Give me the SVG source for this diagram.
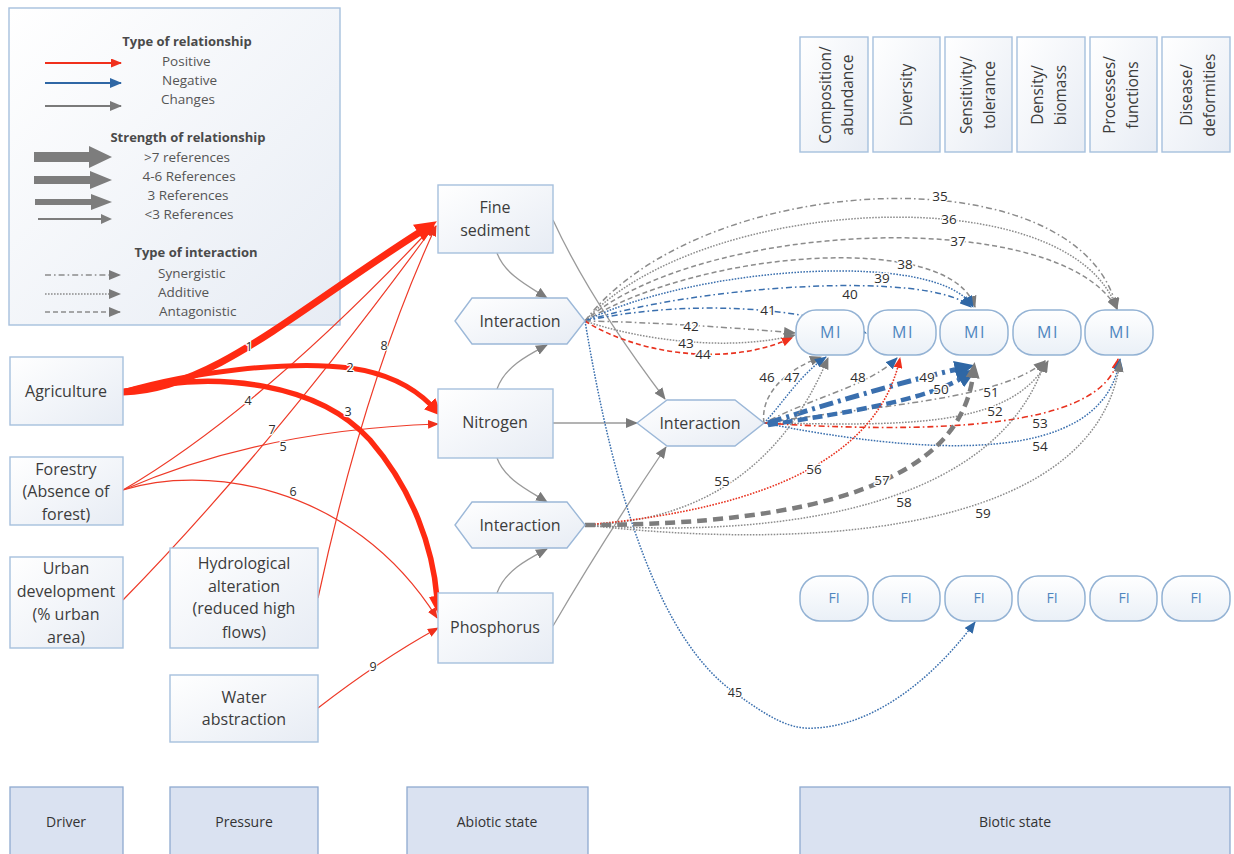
<svg xmlns="http://www.w3.org/2000/svg" width="1234" height="854" viewBox="0 0 1234 854">
  <defs>
    <linearGradient id="nodeFill" x1="0" y1="0" x2="1" y2="1">
      <stop offset="0" stop-color="#ffffff"/>
      <stop offset="1" stop-color="#e7ecf4"/>
    </linearGradient>
    <linearGradient id="pillFill" x1="0" y1="0" x2="0" y2="1">
      <stop offset="0" stop-color="#ffffff"/>
      <stop offset="1" stop-color="#eaf0f7"/>
    </linearGradient>
    <marker id="mRedL" markerUnits="userSpaceOnUse" markerWidth="22" markerHeight="20" refX="2" refY="10" orient="auto">
      <path d="M0,0 L22,10 L0,20 z" fill="#ff2a12"/>
    </marker>
    <marker id="mRedM" markerUnits="userSpaceOnUse" markerWidth="18" markerHeight="16" refX="2" refY="8" orient="auto">
      <path d="M0,0 L18,8 L0,16 z" fill="#ff2a12"/>
    </marker>
    <marker id="mRed" markerUnits="userSpaceOnUse" markerWidth="11" markerHeight="9" refX="10" refY="4.5" orient="auto">
      <path d="M0,0 L11,4.5 L0,9 z" fill="#f0301c"/>
    </marker>
    <marker id="mGray" markerUnits="userSpaceOnUse" markerWidth="12" markerHeight="10" refX="11" refY="5" orient="auto">
      <path d="M0,0 L12,5 L0,10 z" fill="#7a7a7a"/>
    </marker>
    <marker id="mBlue" markerUnits="userSpaceOnUse" markerWidth="12" markerHeight="10" refX="11" refY="5" orient="auto">
      <path d="M0,0 L12,5 L0,10 z" fill="#2f67a5"/>
    </marker>
    <marker id="mBlueL" markerUnits="userSpaceOnUse" markerWidth="20" markerHeight="18" refX="3" refY="9" orient="auto">
      <path d="M0,0 L20,9 L0,18 z" fill="#2f67a5"/>
    </marker>
    <marker id="mGrayL" markerUnits="userSpaceOnUse" markerWidth="16" markerHeight="14" refX="3" refY="7" orient="auto">
      <path d="M0,0 L16,7 L0,14 z" fill="#7a7a7a"/>
    </marker>
    <style>
      text { font-family: "Open Sans", "Liberation Sans", sans-serif; fill: #3c3c3c; }
      .box { fill: url(#nodeFill); stroke: #a6c0dd; stroke-width: 1.4; }
      .hdr { fill: #dae2f1; stroke: #8faad0; stroke-width: 1.3; }
      .hex { fill: url(#nodeFill); stroke: #9cb8d8; stroke-width: 1.4; }
      .pill { fill: url(#pillFill); stroke: #93b2d4; stroke-width: 1.5; }
      .nt { font-size: 16px; text-anchor: middle; }
      .ht { font-size: 14px; text-anchor: middle; fill: #333; }
      .ct { font-size: 15.5px; text-anchor: middle; }
      .mi { font-size: 16px; text-anchor: middle; fill: #4f86c0; letter-spacing: 1.5px; }
      .fi { font-size: 14px; text-anchor: middle; fill: #4f86c0; }
      .lh { font-size: 13px; font-weight: bold; text-anchor: middle; fill: #4a4a4a; }
      .lt { font-size: 13.5px; fill: #555; }
      .ltm { font-size: 13.5px; fill: #555; text-anchor: middle; }
      .num { font-size: 13.5px; text-anchor: middle; fill: #2e2e2e; stroke: #ffffff; stroke-width: 3px; paint-order: stroke; stroke-linejoin: round; }
      .nums { font-size: 12.5px; text-anchor: middle; fill: #2e2e2e; stroke: #ffffff; stroke-width: 2.5px; paint-order: stroke; stroke-linejoin: round; }
      .c { fill: none; }
      .red { stroke: #ff2a12; }
      .redt { stroke: #ee3a28; stroke-width: 1.2; }
      .gs { stroke: #9a9a9a; stroke-width: 1.3; }
      .g { stroke: #8c8c8c; stroke-width: 1.5; }
      .b { stroke: #3a6fae; stroke-width: 1.5; }
      .r { stroke: #e8321f; stroke-width: 1.6; }
      .sy { stroke-dasharray: 6 3 1.6 3; }
      .ad { stroke-dasharray: 1.6 1.4; }
      .an { stroke-dasharray: 5 3; }
    </style>
  </defs>

  <rect width="1234" height="854" fill="#ffffff"/>

  <!-- Legend -->
  <g id="legend">
    <rect x="9" y="8" width="331" height="317" class="box"/>
    <text class="lh" x="187" y="46">Type of relationship</text>
    <path d="M45,63 L121,63" class="c" stroke="#f0301c" stroke-width="2.2" marker-end="url(#mRed)"/>
    <text class="lt" x="162" y="66">Positive</text>
    <path d="M45,83 L121,83" class="c" stroke="#2f67a5" stroke-width="2.2" marker-end="url(#mBlue)"/>
    <text class="lt" x="162" y="85">Negative</text>
    <path d="M45,106 L121,106" class="c" stroke="#7a7a7a" stroke-width="1.8" marker-end="url(#mGray)"/>
    <text class="lt" x="161" y="104">Changes</text>

    <text class="lh" x="188" y="142">Strength of relationship</text>
    <path d="M34,152 L89,152 L89,146 L112,157 L89,168 L89,162 L34,162 z" fill="#7d7d7d"/>
    <text class="ltm" x="187" y="162">&gt;7 references</text>
    <path d="M34,176 L90,176 L90,171 L112,180 L90,189 L90,184 L34,184 z" fill="#7d7d7d"/>
    <text class="ltm" x="189" y="181">4-6 References</text>
    <path d="M35,199 L91,199 L91,194 L112,202 L91,210 L91,205 L35,205 z" fill="#7d7d7d"/>
    <text class="ltm" x="188" y="200">3 References</text>
    <path d="M38,218 L101,218 L101,214 L112,219 L101,224 L101,220 L38,220 z" fill="#7d7d7d"/>
    <text class="ltm" x="189" y="219">&lt;3 References</text>

    <text class="lh" x="196" y="257">Type of interaction</text>
    <path d="M45,275 L120,275" class="c g sy" marker-end="url(#mGray)"/>
    <text class="lt" x="158" y="278">Synergistic</text>
    <path d="M45,294 L120,294" class="c g ad" marker-end="url(#mGray)"/>
    <text class="lt" x="158" y="297">Additive</text>
    <path d="M45,312 L120,312" class="c g an" marker-end="url(#mGray)"/>
    <text class="lt" x="159" y="316">Antagonistic</text>
  </g>

  <!-- Biotic metric columns -->
  <g id="metric-composition">
    <rect x="800" y="37" width="68" height="115" class="box"/>
    <text class="ct" transform="translate(831,95) rotate(-90)">Composition/</text>
    <text class="ct" transform="translate(853,95) rotate(-90)">abundance</text>
  </g>
  <g id="metric-diversity">
    <rect x="873" y="37" width="67" height="115" class="box"/>
    <text class="ct" transform="translate(912,95) rotate(-90)">Diversity</text>
  </g>
  <g id="metric-sensitivity">
    <rect x="945" y="37" width="67" height="115" class="box"/>
    <text class="ct" transform="translate(972,95) rotate(-90)">Sensitivity/</text>
    <text class="ct" transform="translate(995,95) rotate(-90)">tolerance</text>
  </g>
  <g id="metric-density">
    <rect x="1017" y="37" width="68" height="115" class="box"/>
    <text class="ct" transform="translate(1043,95) rotate(-90)">Density/</text>
    <text class="ct" transform="translate(1066,95) rotate(-90)">biomass</text>
  </g>
  <g id="metric-processes">
    <rect x="1090" y="37" width="67" height="115" class="box"/>
    <text class="ct" transform="translate(1115,95) rotate(-90)">Processes/</text>
    <text class="ct" transform="translate(1138,95) rotate(-90)">functions</text>
  </g>
  <g id="metric-disease">
    <rect x="1162" y="37" width="68" height="115" class="box"/>
    <text class="ct" transform="translate(1192,95) rotate(-90)">Disease/</text>
    <text class="ct" transform="translate(1215,95) rotate(-90)">deformities</text>
  </g>

  <!-- Connectors -->
  <g id="connectors" class="c">
    <!-- drivers and pressures to abiotic state -->
    <path d="M123,490 Q260,410 433,226" class="redt" marker-end="url(#mRed)"/>
    <path d="M123,600 Q270,450 434,226" class="redt" marker-end="url(#mRed)"/>
    <path d="M318,598 Q365,380 436,226" class="redt" marker-end="url(#mRed)"/>
    <path d="M123,490 Q260,430 438,424" class="redt" marker-end="url(#mRed)"/>
    <path d="M123,490 C200,465 350,480 437,618" class="redt" marker-end="url(#mRed)"/>
    <path d="M318,708 Q380,660 438,628" class="redt" marker-end="url(#mRed)"/>
    <path d="M123,392 C210,390 290,315 420,232" class="red" stroke-width="7" marker-end="url(#mRedL)"/>
    <path d="M123,392 C190,372 290,360 350,368 C393,374 418,392 431,405" class="red" stroke-width="5" marker-end="url(#mRedM)"/>
    <path d="M123,392 C220,368 320,385 370,440 C413,490 433,548 437,598" class="red" stroke-width="5.5" marker-end="url(#mRedM)"/>

    <!-- abiotic to interactions -->
    <path d="M497,253 C505,275 530,287 547,298" class="gs" marker-end="url(#mGray)"/>
    <path d="M497,389 C505,366 530,354 547,345" class="gs" marker-end="url(#mGray)"/>
    <path d="M497,458 C505,480 530,491 547,502" class="gs" marker-end="url(#mGray)"/>
    <path d="M497,593 C505,570 530,558 547,549" class="gs" marker-end="url(#mGray)"/>
    <path d="M553,220 Q590,300 665,399" class="gs" marker-end="url(#mGray)"/>
    <path d="M553,423 L637,423" class="gs" marker-end="url(#mGray)"/>
    <path d="M553,626 Q600,545 666,447" class="gs" marker-end="url(#mGray)"/>

    <!-- upper interaction to biotic state -->
    <path d="M585,321 C700,170 1080,150 1117,309" class="g sy" marker-end="url(#mGray)"/>
    <path d="M585,321 C700,195 1070,175 1117,309" class="g ad" marker-end="url(#mGray)"/>
    <path d="M585,321 C700,220 1060,205 1117,309" class="g an" marker-end="url(#mGray)"/>
    <path d="M585,321 C700,250 950,230 975,307" class="g an" marker-end="url(#mGray)"/>
    <path d="M585,321 C700,265 940,250 973,307" class="b ad" marker-end="url(#mBlue)"/>
    <path d="M585,321 C700,285 930,270 971,307" class="b sy" marker-end="url(#mBlue)"/>
    <path d="M585,321 C680,300 800,305 866,333" class="b sy" marker-end="url(#mBlue)"/>
    <path d="M585,321 C650,322 740,328 795,333" class="g sy" marker-end="url(#mGray)"/>
    <path d="M585,321 C640,340 730,352 795,335" class="g ad" marker-end="url(#mGray)"/>
    <path d="M585,321 C630,350 720,370 792,338" class="r an" marker-end="url(#mRed)"/>
    <path d="M585,321 C615,500 660,640 735,693 C770,718 790,730 815,728 C880,725 940,670 975,622" class="b ad" marker-end="url(#mBlue)"/>

    <!-- middle interaction to biotic state -->
    <path d="M764,423 C760,395 785,370 821,357" class="g an" marker-end="url(#mGray)"/>
    <path d="M766,421 C785,400 800,375 826,357" class="b ad" marker-end="url(#mBlue)"/>
    <path d="M770,420 C820,395 870,385 897,358" class="g sy" marker-end="url(#mBlue)"/>
    <path d="M764,423 C880,405 1000,400 1045,361" class="g sy" marker-end="url(#mGray)"/>
    <path d="M764,423 C900,425 1010,430 1048,361" class="g ad" marker-end="url(#mGray)"/>
    <path d="M764,423 Q1100,445 1118,359" class="r sy" marker-end="url(#mRed)"/>
    <path d="M764,423 Q1100,490 1120,359" class="b ad" marker-end="url(#mBlue)"/>
    <path d="M768,423 C840,400 910,380 958,369" stroke="#3a6fae" stroke-width="5" stroke-dasharray="14 5 3 5" marker-end="url(#mBlueL)"/>
    <path d="M768,425 C850,412 925,400 962,378" stroke="#3a6fae" stroke-width="4.5" stroke-dasharray="10 5" marker-end="url(#mBlueL)"/>

    <!-- lower interaction to biotic state -->
    <path d="M585,525 Q760,520 828,358" class="g ad" marker-end="url(#mGray)"/>
    <path d="M585,525 Q870,500 900,358" class="r ad" marker-end="url(#mRed)"/>
    <path d="M585,525 C800,540 1000,500 1045,361" class="g ad" marker-end="url(#mGray)"/>
    <path d="M585,525 C850,555 1100,520 1120,361" class="g ad" marker-end="url(#mGray)"/>
    <path d="M585,525 C820,525 960,480 973,375" stroke="#7d7d7d" stroke-width="4.5" stroke-dasharray="10 6" marker-end="url(#mGrayL)"/>

    <!-- connector numbers -->
    <text class="nums" x="249" y="351">1</text>
    <text class="nums" x="350" y="372">2</text>
    <text class="nums" x="348" y="416">3</text>
    <text class="nums" x="248" y="405">4</text>
    <text class="nums" x="283" y="451">5</text>
    <text class="nums" x="293" y="496">6</text>
    <text class="nums" x="272" y="434">7</text>
    <text class="nums" x="384" y="350">8</text>
    <text class="nums" x="373" y="671">9</text>
    <text class="num" x="940" y="201">35</text>
    <text class="num" x="949" y="224">36</text>
    <text class="num" x="958" y="246">37</text>
    <text class="num" x="905" y="269">38</text>
    <text class="num" x="882" y="283">39</text>
    <text class="num" x="850" y="299">40</text>
    <text class="num" x="768" y="315">41</text>
    <text class="num" x="691" y="331">42</text>
    <text class="num" x="686" y="348">43</text>
    <text class="num" x="703" y="359">44</text>
    <text class="nums" x="735" y="697">45</text>
    <text class="num" x="767" y="382">46</text>
    <text class="num" x="792" y="382">47</text>
    <text class="num" x="858" y="382">48</text>
    <text class="num" x="927" y="382">49</text>
    <text class="num" x="941" y="394">50</text>
    <text class="num" x="991" y="397">51</text>
    <text class="num" x="995" y="416">52</text>
    <text class="num" x="1040" y="428">53</text>
    <text class="num" x="1040" y="451">54</text>
    <text class="num" x="722" y="486">55</text>
    <text class="num" x="814" y="474">56</text>
    <text class="num" x="882" y="485">57</text>
    <text class="num" x="904" y="507">58</text>
    <text class="num" x="983" y="518">59</text>
  </g>

  <!-- Drivers -->
  <g id="agriculture">
    <rect x="10" y="357" width="113" height="68" class="box"/>
    <text class="nt" x="66" y="397">Agriculture</text>
  </g>
  <g id="forestry">
    <rect x="10" y="457" width="113" height="68" class="box"/>
    <text class="nt" x="66" y="475">Forestry</text>
    <text class="nt" x="66" y="497">(Absence of</text>
    <text class="nt" x="66" y="520">forest)</text>
  </g>
  <g id="urban">
    <rect x="10" y="557" width="113" height="91" class="box"/>
    <text class="nt" x="66" y="574">Urban</text>
    <text class="nt" x="66" y="597">development</text>
    <text class="nt" x="66" y="620">(% urban</text>
    <text class="nt" x="66" y="643">area)</text>
  </g>

  <!-- Pressures -->
  <g id="hydrological">
    <rect x="170" y="548" width="148" height="100" class="box"/>
    <text class="nt" x="244" y="569">Hydrological</text>
    <text class="nt" x="244" y="592">alteration</text>
    <text class="nt" x="244" y="614">(reduced high</text>
    <text class="nt" x="244" y="638">flows)</text>
  </g>
  <g id="water-abstraction">
    <rect x="170" y="675" width="148" height="67" class="box"/>
    <text class="nt" x="244" y="703">Water</text>
    <text class="nt" x="244" y="725">abstraction</text>
  </g>

  <!-- Abiotic state -->
  <g id="fine-sediment">
    <rect x="438" y="185" width="115" height="68" class="box"/>
    <text class="nt" x="495" y="213">Fine</text>
    <text class="nt" x="495" y="236">sediment</text>
  </g>
  <g id="nitrogen">
    <rect x="438" y="389" width="115" height="69" class="box"/>
    <text class="nt" x="495" y="428">Nitrogen</text>
  </g>
  <g id="phosphorus">
    <rect x="438" y="593" width="115" height="70" class="box"/>
    <text class="nt" x="495" y="633">Phosphorus</text>
  </g>
  <g id="interaction-upper">
    <polygon points="455,321 472,298 567,298 585,321 567,344 472,344" class="hex"/>
    <text class="nt" x="520" y="327">Interaction</text>
  </g>
  <g id="interaction-lower">
    <polygon points="455,525 472,502 567,502 585,525 567,548 472,548" class="hex"/>
    <text class="nt" x="520" y="531">Interaction</text>
  </g>
  <g id="interaction-middle">
    <polygon points="637,423 667,400 735,400 764,423 735,446 667,446" class="hex"/>
    <text class="nt" x="700" y="429">Interaction</text>
  </g>

  <!-- Macroinvertebrate metrics -->
  <g id="mi-1"><rect x="796" y="310" width="68" height="45" rx="20" class="pill"/><text class="mi" x="831" y="338">MI</text></g>
  <g id="mi-2"><rect x="868" y="310" width="68" height="45" rx="20" class="pill"/><text class="mi" x="903" y="338">MI</text></g>
  <g id="mi-3"><rect x="940" y="310" width="68" height="45" rx="20" class="pill"/><text class="mi" x="975" y="338">MI</text></g>
  <g id="mi-4"><rect x="1013" y="310" width="68" height="45" rx="20" class="pill"/><text class="mi" x="1048" y="338">MI</text></g>
  <g id="mi-5"><rect x="1085" y="310" width="68" height="45" rx="20" class="pill"/><text class="mi" x="1120" y="338">MI</text></g>

  <!-- Fish metrics -->
  <g id="fi-1"><rect x="800" y="576" width="68" height="45" rx="20" class="pill"/><text class="fi" x="834" y="603">FI</text></g>
  <g id="fi-2"><rect x="873" y="576" width="67" height="45" rx="20" class="pill"/><text class="fi" x="906" y="603">FI</text></g>
  <g id="fi-3"><rect x="945" y="576" width="67" height="45" rx="20" class="pill"/><text class="fi" x="979" y="603">FI</text></g>
  <g id="fi-4"><rect x="1018" y="576" width="67" height="45" rx="20" class="pill"/><text class="fi" x="1052" y="603">FI</text></g>
  <g id="fi-5"><rect x="1090" y="576" width="67" height="45" rx="20" class="pill"/><text class="fi" x="1124" y="603">FI</text></g>
  <g id="fi-6"><rect x="1162" y="576" width="68" height="45" rx="20" class="pill"/><text class="fi" x="1196" y="603">FI</text></g>

  <!-- Category headers -->
  <g id="hdr-driver"><rect x="10" y="787" width="113" height="70" class="hdr"/><text class="ht" x="66" y="827">Driver</text></g>
  <g id="hdr-pressure"><rect x="170" y="787" width="148" height="70" class="hdr"/><text class="ht" x="244" y="827">Pressure</text></g>
  <g id="hdr-abiotic"><rect x="407" y="787" width="181" height="70" class="hdr"/><text class="ht" x="497" y="827">Abiotic state</text></g>
  <g id="hdr-biotic"><rect x="800" y="787" width="430" height="70" class="hdr"/><text class="ht" x="1015" y="827">Biotic state</text></g>
</svg>
